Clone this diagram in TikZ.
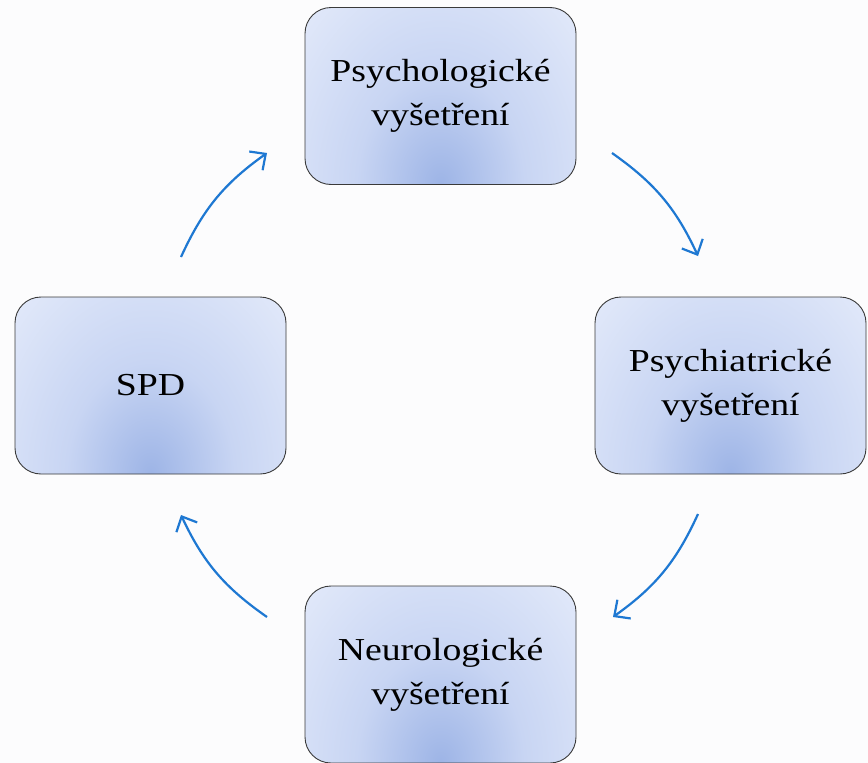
\documentclass[tikz,border=0pt]{standalone}
\usepackage{fontspec}
\setmainfont{Liberation Serif}[FakeStretch=1.18]
\usetikzlibrary{arrows.meta}
\definecolor{bgcol}{HTML}{FCFCFD}
\definecolor{boxlight}{HTML}{EBF0FC}
\definecolor{boxmid}{HTML}{C8D5F3}
\definecolor{boxdark}{HTML}{9DB4E6}
\definecolor{boxline}{HTML}{3A3A3A}
\definecolor{arrowcol}{HTML}{1E78D2}
\pgfdeclareradialshading{boxshade}{\pgfpoint{0bp}{0bp}}{color(0bp)=(boxdark); color(10bp)=(boxmid); color(27bp)=(boxlight); color(50bp)=(boxlight)}
\tikzset{
  stagebox/.style={draw=boxline, line width=0.9pt, rounded corners=26pt,
    minimum width=271pt, minimum height=177pt, fill=boxlight,
    align=center, font=\fontsize{32}{44}\selectfont,
    path picture={\shade[shading=boxshade]
      (path picture bounding box.south) ellipse [x radius=210pt, y radius=280pt];}},
  cyclearrow/.style={draw=arrowcol, line width=2.2pt,
    -{Straight Barb[length=12pt,width=23pt,line width=2.2pt]}, bend left=15}
}
\begin{document}
\begin{tikzpicture}[x=1pt,y=-1pt]
\fill[bgcol] (0,0) rectangle (868,763);
\useasboundingbox (0,0) rectangle (868,763);
\node[stagebox] (psych) at (440.5,96) {Psychologické\\vyšetření};
\node[stagebox] (psychiat) at (730.5,385.5) {Psychiatrické\\vyšetření};
\node[stagebox] (neuro) at (440.5,674.5) {Neurologické\\vyšetření};
\node[stagebox] (spd) at (150.5,385.5) {SPD};
\coordinate (a1s) at (612,153); \coordinate (a1e) at (698,256);
\coordinate (a2s) at (698,514); \coordinate (a2e) at (613,617);
\coordinate (a3s) at (267,617); \coordinate (a3e) at (181,515);
\coordinate (a4s) at (181,257); \coordinate (a4e) at (267,153);
\draw[cyclearrow] (a1s) to (a1e);
\draw[cyclearrow] (a2s) to (a2e);
\draw[cyclearrow] (a3s) to (a3e);
\draw[cyclearrow] (a4s) to (a4e);
\end{tikzpicture}
\end{document}
